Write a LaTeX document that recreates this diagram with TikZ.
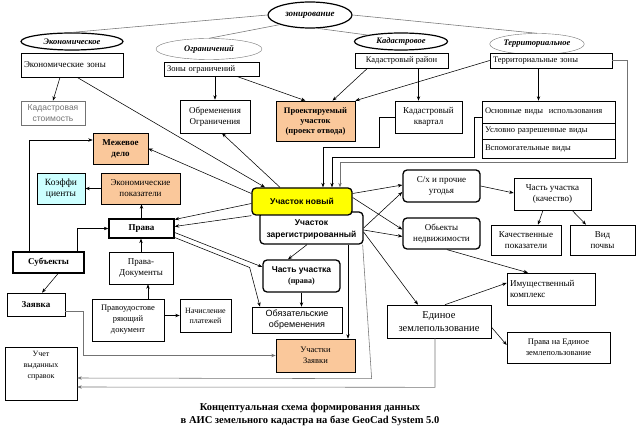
\documentclass[tikz,border=0pt]{standalone}
\usepackage{fontspec}
\setmainfont{Liberation Serif}
\setsansfont{Liberation Sans}
\usetikzlibrary{positioning,arrows.meta,calc,shapes.geometric}
\definecolor{peach}{RGB}{250,200,155}
\definecolor{aqua}{RGB}{204,255,255}
\definecolor{lemon}{RGB}{255,255,0}
\definecolor{ink}{RGB}{0,0,0}
\definecolor{gray55}{RGB}{115,115,115}
\newcommand{\sz}[2]{\fontsize{#1}{#2}\selectfont}
\tikzset{
  box/.style={draw=ink, line width=0.6pt, fill=white, align=center, inner sep=1pt,
              font=\sz{8.5}{10}, text=ink},
  lbox/.style={box, align=left, inner xsep=3pt},
  fatbox/.style={box, line width=1.3pt, font=\sz{9}{10}\bfseries},
  rbox/.style={box, rounded corners=4pt, line width=1.3pt},
  peachbox/.style={box, fill=peach},
  oval/.style={ellipse, draw=ink, fill=white, inner sep=0pt, font=\sz{8.5}{9}\bfseries\itshape},
  arr/.style={-{Stealth[length=4.5pt,width=3.4pt]}, line width=0.55pt, draw=ink},
  garr/.style={arr, draw=gray55},
  gline/.style={line width=0.55pt, draw=gray55},
}
\begin{document}
\begin{tikzpicture}[x=1pt, y=-1pt]
  \useasboundingbox (0,0) rectangle (640,430);

  \node[oval, line width=1.2pt, minimum width=84pt, minimum height=26pt, font=\sz{9}{10}\bfseries\itshape] (zon) at (310,15) {зонирование};
  \node[oval, line width=1.2pt, minimum width=102pt, minimum height=17pt] (econ) at (72,41.5) {Экономическое};
  \node[oval, draw=gray55, minimum width=106pt, minimum height=21pt] (ogr) at (209,49) {Ограничений};
  \node[oval, line width=1.2pt, minimum width=93pt, minimum height=17pt] (kad) at (401,41.5) {Кадастровое};
  \node[oval, draw=gray55, minimum width=93pt, minimum height=21pt] (terr) at (537,44) {Территориальное};

  \node[lbox, text width=96pt, minimum height=24pt, font=\sz{9}{10}] (ecz) at (72,65) {Экономические зоны};
  \node[lbox, text width=89pt, minimum height=14pt] (ogz) at (211.5,69) {Зоны ограничений};
  \node[box, minimum width=93pt, minimum height=15pt] (kdr) at (401.5,60.5) {Кадастровый район};
  \node[lbox, text width=116pt, minimum height=15pt] (trz) at (551,60.5) {Территориальные зоны};

  \node[box, draw=gray55, text=gray55, font=\sffamily\sz{8.5}{11}, minimum width=64pt, minimum height=24pt] (kst) at (53,113) {Кадастровая\\стоимость};
  \node[box, minimum width=70pt, minimum height=33pt, font=\sz{9}{11}] (obr) at (215,116.5) {Обременения\\Ограничения};
  \node[peachbox, minimum width=79pt, minimum height=40pt, font=\sz{8.5}{10}\bfseries] (prj) at (315.5,121) {Проектируемый\\участок\\(проект отвода)};
  \node[box, minimum width=67pt, minimum height=32pt, font=\sz{9}{11}] (kkv) at (428.5,117) {Кадастровый\\квартал};
  \node[lbox, text width=127pt, minimum height=22pt] (osn) at (548.5,112) {Основные виды \ использования};
  \node[lbox, text width=127pt, minimum height=16pt] (usl) at (548.5,131) {Условно разрешенные виды};
  \node[lbox, text width=127pt, minimum height=19pt] (vsp) at (548.5,148.5) {Вспомогательные виды};

  \node[peachbox, minimum width=55pt, minimum height=31pt, font=\sz{9}{11}\bfseries] (mzh) at (120.5,148.5) {Межевое\\дело};
  \node[box, fill=aqua, minimum width=48pt, minimum height=31pt, font=\sz{9.5}{11}] (kof) at (61,188.5) {Коэффи\\циенты};
  \node[peachbox, minimum width=79pt, minimum height=31pt, font=\sz{9}{11}] (ekp) at (140.5,188.5) {Экономические\\показатели};
  \node[fatbox, minimum width=65pt, minimum height=19pt] (prv) at (141.5,228.5) {Права};
  \node[fatbox, minimum width=71pt, minimum height=21pt] (sub) at (48.5,262.5) {Субъекты};
  \node[box, minimum width=64pt, minimum height=32pt, font=\sz{9}{11}] (prd) at (141,268) {Права-\\Документы};
  \node[box, minimum width=58pt, minimum height=23pt, font=\sz{9}{10}\bfseries] (zay) at (36,304.5) {Заявка};
  \node[box, minimum width=72pt, minimum height=42pt, font=\sz{8.5}{11}] (pud) at (128,320) {Правоудостове\\ряющий\\документ};
  \node[box, minimum width=51pt, minimum height=33pt, font=\sz{8}{10}] (nch) at (205.5,315.5) {Начисление\\платежей};
  \node[box, minimum width=72pt, minimum height=53pt, font=\sz{8}{11}] (uch) at (41,373.5) {Учет\\выданных\\справок\\[6pt]};

  \node[rbox, minimum width=103pt, minimum height=32pt, font=\sffamily\sz{8.5}{12}\bfseries] (reg) at (311.5,228) {\\[-3pt]Участок\\зарегистрированный};
  \node[rbox, fill=lemon, minimum width=100pt, minimum height=27pt, font=\sffamily\sz{8.5}{10}\bfseries] (new) at (302,201.5) {Участок новый};
  \node[rbox, minimum width=77pt, minimum height=32pt, font=\sffamily\sz{8.5}{11}\bfseries] (cht) at (301.5,276) {Часть участка\\{\rmfamily\sz{8}{9}(права)}};
  \node[box, minimum width=90pt, minimum height=26pt, font=\sffamily\sz{9}{11}] (obz) at (297,320) {Обязательские\\обременения};
  \node[peachbox, minimum width=79pt, minimum height=33pt, font=\sz{8.5}{11}] (uzy) at (315.5,355.5) {Участки\\Заявки};

  \node[rbox, minimum width=77pt, minimum height=32pt, font=\sz{9}{11}] (shx) at (441.5,186) {С/х и прочие\\угодья};
  \node[rbox, minimum width=77pt, minimum height=31pt, font=\sz{9}{11}] (obn) at (441.5,233.5) {Обьекты\\недвижимости};
  \node[box, minimum width=77pt, minimum height=32pt, font=\sz{9}{11}] (chk) at (552.5,194) {Часть участка\\(качество)};
  \node[box, minimum width=70pt, minimum height=30pt, font=\sz{9}{11}] (kch) at (526,240) {Качественные\\показатели};
  \node[box, minimum width=65pt, minimum height=30pt, font=\sz{9}{11}] (vid) at (602.5,240) {Вид\\почвы};
  \node[lbox, text width=82pt, minimum height=32pt, font=\sz{9}{11}] (imk) at (551,289) {Имущественный\\комплекс};
  \node[box, minimum width=104pt, minimum height=33pt, font=\sz{10.5}{13}] (edz) at (439,321.5) {Единое\\землепользование};
  \node[box, minimum width=103pt, minimum height=31pt, font=\sz{8.5}{10.5}] (pre) at (558.5,347.5) {Права на Единое\\землепользование};

  \node[font=\sz{10.5}{13}\bfseries, align=center] (cap) at (310,414) {Концептуальная схема формирования данных\\в АИС земельного кадастра на базе GeoCad System 5.0};

  \draw[gline] (zon.west) -- (econ.north);
  \draw[gline] (zon.south west) -- (ogr.north);
  \draw[gline] (zon.-60) -- (kad.north west);
  \draw[gline] (zon.east) -- (terr.north);

  \coordinate (k1) at ($(kkv.north)+(-10,0)$);
  \coordinate (t1) at ($(osn.north)+(-10,0)$);
  \coordinate (p1) at ($(pud.north)+(20,0)$);
  \coordinate (r1) at ($(reg.south)+(36.5,0)$);

  \draw[arr] ($(ecz.south)+(-12,0)$) -- (kst.north);
  \draw[arr] ($(ecz.south)+(5,0)$) -- ($(new.north)+(-37,0)$);
  \draw[arr] ($(new.north)+(-22,0)$) -- ($(obr.south)+(7,0)$);
  \draw[arr] (obr.north |- ogz.south) -- (obr.north);
  \draw[arr] ($(ogz.south)+(25,0)$) -- ($(prj.north)+(-10,0)$);
  \draw[arr] ($(kdr.south)+(-34,0)$) -- ($(prj.north)+(17,0)$);
  \draw[arr] (trz.west) -- (prj.north east);
  \draw[arr] (k1 |- kdr.south) -- (k1);
  \draw[arr] (t1 |- trz.south) -- (t1);
  \draw[garr] (trz.east) -- ++(15,0) |- ($(new.north)+(38,-25)$) -- ($(new.north)+(38,0)$);
  \draw[arr] (kkv.west) -- ++(-15,0) |- ($(new.north)+(21,-40)$) -- ($(new.north)+(21,0)$);
  \draw[arr] ($(osn.west)+(0,5)$) -- ++(-7,0) |- ($(new.north)+(30,-30)$) -- ($(new.north)+(30,0)$);

  \draw[arr] ($(new.west)+(0,-8)$) -- (mzh.east);
  \draw[arr] ($(new.west)+(0,2)$) -- ($(prv.east)+(0,-9)$);
  \draw[arr] (new.south west) -- ($(prv.east)+(0,-2)$);
  \draw[arr] ($(prv.east)+(0,4)$) -- ($(cht.west)+(0,-9)$);
  \draw[arr] ($(prv.east)+(0,9)$) -- ++(75,30) -- ($(obz.north)+(-37,0)$);

  \draw[arr] ($(new.east)+(0,-8)$) -- ($(shx.west)+(0,-1)$);
  \draw[arr] ($(new.east)+(0,-4)$) -- ($(obn.west)+(0,-4)$);
  \draw[arr] (reg.east) -- ($(shx.west)+(0,6)$);
  \draw[arr] ($(reg.east)+(0,2)$) -- ($(obn.west)+(0,3)$);
  \draw[arr] ($(reg.east)+(0,4)$) -- ($(edz.north)+(-21,0)$);
  \draw[garr] ($(reg.south east)+(-1,0)$) -- ++(9,134) -- ($(uch.east)+(0,4.5)$);
  \draw[arr] (r1) -- (r1 |- uzy.north);
  \draw[arr] ($(reg.south)+(-4.5,0)$) -- ($(cht.north)+(-13.5,0)$);
  \draw[arr] (cht.south) -- (cht.south |- obz.north);

  \draw[arr] (shx.east) -- ($(chk.west)+(0,-1)$);
  \draw[arr] ($(chk.south)+(-9.5,0)$) -- ($(kch.north)+(12,0)$);
  \draw[arr] ($(chk.south)+(19.5,0)$) -- ($(vid.north)+(-16.5,0)$);
  \draw[arr] ($(obn.south)+(5.5,0)$) -- ($(imk.north)+(-23,0)$);
  \draw[arr] ($(edz.north)+(6,0)$) -- ($(imk.west)+(0,-6)$);
  \draw[arr] ($(edz.east)+(0,5.5)$) -- ($(pre.west)+(0,-2.5)$);
  \draw[garr] ($(edz.south)+(-4,0)$) -- ++(0,49) -- ($(uch.east)+(0,13.5)$);

  \draw[garr] ($(zay.east)+(0,6.5)$) -- ++(18,0) |- (uzy.west);
  \draw[arr] ($(sub.north)+(-19.5,0)$) |- ($(mzh.west)+(0,-8.5)$);
  \draw[arr] ($(sub.north)+(28.5,0)$) |- (prv.west);
  \draw[arr] ($(sub.south)+(9.5,0)$) -- ($(zay.north)+(6,0)$);
  \draw[arr] (prd.north) -- (prd.north |- prv.south);
  \draw[arr] (prv.north) -- (prv.north |- ekp.south);
  \draw[arr] (ekp.west) -- (kof.east);
  \draw[arr] (p1) -- (p1 |- prd.south);
  \draw[arr] (pud.east |- nch.west) -- (nch.west);
\end{tikzpicture}
\end{document}
